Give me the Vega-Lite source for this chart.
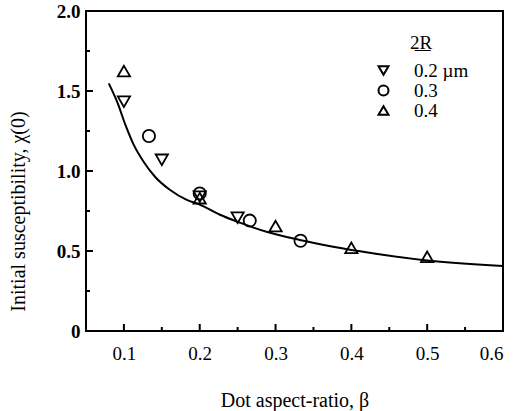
{
  "$schema": "https://vega.github.io/schema/vega-lite/v6.json",
  "width": 417,
  "height": 320,
  "autosize": {"type": "none"},
  "padding": {"left": 86, "top": 11, "right": 16, "bottom": 80},
  "config": {
    "font": "Liberation Serif",
    "view": {"stroke": "black", "strokeWidth": 2},
    "axis": {"grid": false, "domain": false, "ticks": false, "tickSize": 0, "labelColor": "black", "titleColor": "black", "labelFont": "Liberation Serif", "titleFont": "Liberation Serif"}
  },
  "datasets": {
    "points": [
      {"beta": 0.1, "chi": 1.433, "size": "0.2 µm"},
      {"beta": 0.15, "chi": 1.07, "size": "0.2 µm"},
      {"beta": 0.2, "chi": 0.84, "size": "0.2 µm"},
      {"beta": 0.25, "chi": 0.708, "size": "0.2 µm"},
      {"beta": 0.133, "chi": 1.219, "size": "0.3"},
      {"beta": 0.2, "chi": 0.86, "size": "0.3"},
      {"beta": 0.266, "chi": 0.69, "size": "0.3"},
      {"beta": 0.333, "chi": 0.564, "size": "0.3"},
      {"beta": 0.1, "chi": 1.625, "size": "0.4"},
      {"beta": 0.2, "chi": 0.83, "size": "0.4"},
      {"beta": 0.3, "chi": 0.656, "size": "0.4"},
      {"beta": 0.4, "chi": 0.52, "size": "0.4"},
      {"beta": 0.5, "chi": 0.464, "size": "0.4"}
    ],
    "curve": [
      {"beta": 0.08, "chi": 1.548},
      {"beta": 0.091, "chi": 1.433},
      {"beta": 0.102, "chi": 1.288},
      {"beta": 0.113, "chi": 1.163},
      {"beta": 0.126, "chi": 1.058},
      {"beta": 0.141, "chi": 0.964},
      {"beta": 0.161, "chi": 0.881},
      {"beta": 0.183, "chi": 0.819},
      {"beta": 0.2, "chi": 0.79},
      {"beta": 0.226, "chi": 0.728},
      {"beta": 0.253, "chi": 0.677},
      {"beta": 0.288, "chi": 0.62},
      {"beta": 0.332, "chi": 0.569},
      {"beta": 0.376, "chi": 0.527},
      {"beta": 0.428, "chi": 0.486},
      {"beta": 0.494, "chi": 0.444},
      {"beta": 0.6, "chi": 0.406}
    ],
    "xmajor": [{"v": 0.1}, {"v": 0.2}, {"v": 0.3}, {"v": 0.4}, {"v": 0.5}],
    "xminor": [{"v": 0.15}, {"v": 0.25}, {"v": 0.35}, {"v": 0.45}, {"v": 0.55}],
    "ymajor": [{"v": 0}, {"v": 0.5}, {"v": 1.0}, {"v": 1.5}],
    "yminor": [{"v": 0.25}, {"v": 0.75}, {"v": 1.25}, {"v": 1.75}]
  },
  "layer": [
    {
      "data": {"name": "curve"},
      "mark": {"type": "line", "color": "black", "strokeWidth": 2, "interpolate": "monotone", "clip": true},
      "encoding": {
        "x": {"field": "beta", "type": "quantitative", "scale": {"domain": [0.05, 0.6], "nice": false, "zero": false},
          "axis": {"orient": "bottom", "values": [0.1, 0.2, 0.3, 0.4, 0.5, 0.6], "format": ".1f", "labelPadding": 13, "labelFontSize": 19, "labelFontWeight": "normal", "title": "Dot aspect-ratio, β", "titleFontSize": 20, "titleFontWeight": "normal", "titlePadding": 27}},
        "y": {"field": "chi", "type": "quantitative", "scale": {"domain": [0, 2], "nice": false},
          "axis": {"orient": "left", "values": [0, 0.5, 1, 1.5, 2], "labelExpr": "datum.value == 0 ? '0' : format(datum.value, '.1f')", "labelPadding": 6, "labelFontSize": 19, "labelFontWeight": "bold", "title": "Initial susceptibility, χ(0)", "titleFontSize": 20, "titleFontWeight": "normal", "titleX": -58, "titleY": 200}}
      }
    },
    {
      "data": {"name": "xmajor"},
      "mark": {"type": "rule", "color": "black", "strokeWidth": 2},
      "encoding": {
        "x": {"field": "v", "type": "quantitative", "axis": null},
        "y": {"datum": 0, "type": "quantitative", "axis": null},
        "y2": {"datum": 0.044}
      }
    },
    {
      "data": {"name": "xminor"},
      "mark": {"type": "rule", "color": "black", "strokeWidth": 2},
      "encoding": {
        "x": {"field": "v", "type": "quantitative", "axis": null},
        "y": {"datum": 0, "type": "quantitative", "axis": null},
        "y2": {"datum": 0.025}
      }
    },
    {
      "data": {"name": "ymajor"},
      "mark": {"type": "rule", "color": "black", "strokeWidth": 2},
      "encoding": {
        "y": {"field": "v", "type": "quantitative", "axis": null},
        "x": {"datum": 0.05, "type": "quantitative", "axis": null},
        "x2": {"datum": 0.0592}
      }
    },
    {
      "data": {"name": "yminor"},
      "mark": {"type": "rule", "color": "black", "strokeWidth": 2},
      "encoding": {
        "y": {"field": "v", "type": "quantitative", "axis": null},
        "x": {"datum": 0.05, "type": "quantitative", "axis": null},
        "x2": {"datum": 0.0553}
      }
    },
    {
      "data": {"name": "points"},
      "mark": {"type": "point", "filled": false, "color": "black", "strokeWidth": 1.8, "size": 150, "opacity": 1},
      "encoding": {
        "x": {"field": "beta", "type": "quantitative", "axis": null},
        "y": {"field": "chi", "type": "quantitative", "axis": null},
        "shape": {"field": "size", "type": "nominal",
          "scale": {"domain": ["0.2 µm", "0.3", "0.4"], "range": ["triangle-down", "circle", "triangle-up"]},
          "legend": {"title": "2̲R̲", "orient": "none", "legendX": 288, "legendY": 23, "titleAnchor": "middle", "titleFontSize": 19, "titleFontWeight": "normal", "titleColor": "black", "titlePadding": 8, "labelFontSize": 19, "labelColor": "black", "symbolSize": 100, "symbolStrokeWidth": 2, "symbolStrokeColor": "black", "symbolFillColor": "transparent", "rowPadding": 0, "labelOffset": 21}}
      }
    }
  ],
  "resolve": {"axis": {"x": "independent", "y": "independent"}}
}
